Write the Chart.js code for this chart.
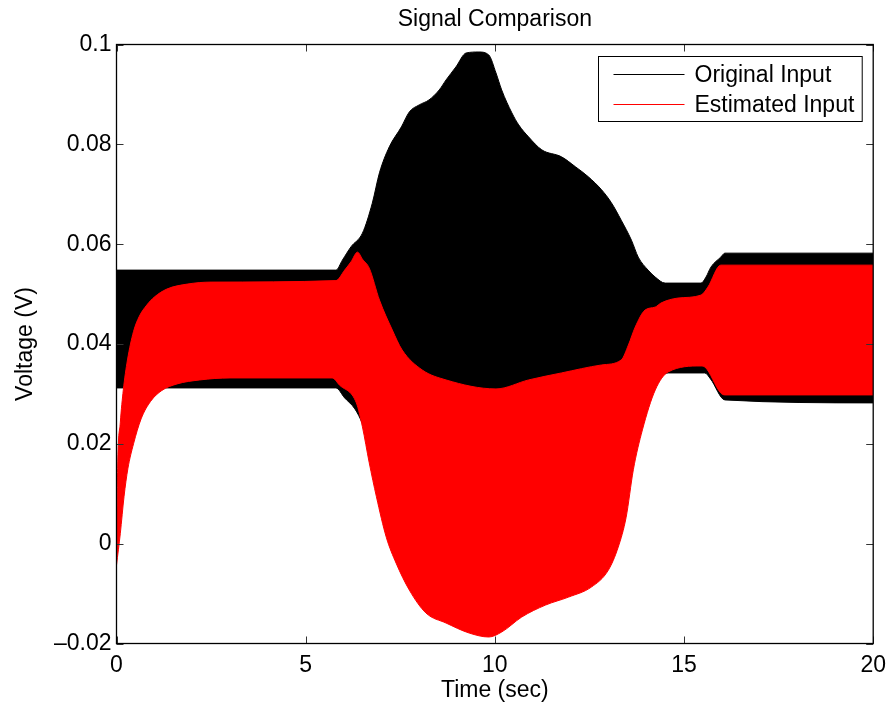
<!DOCTYPE html>
<html>
<head>
<meta charset="utf-8">
<script src="https://cdn.jsdelivr.net/npm/chart.js@4/dist/chart.umd.min.js"></script>
<style>
  html, body { margin: 0; padding: 0; background: #fff; }
  canvas { display: block; }
</style>
</head>
<body>
<canvas id="chart" width="894" height="711"></canvas>
<script>
// Envelope of the original input (dense oscillation drawn as a band)
const origUpperT = [0, 5.8, 5.97, 6.2, 6.5, 6.76, 6.95, 7.21, 7.53, 7.74, 8.0, 8.26, 8.53, 8.71, 8.97, 9.24, 9.58, 9.84, 10.03, 10.18, 10.45, 10.63, 10.89, 11.24, 11.76, 12.13, 12.47, 12.82, 13.08, 13.34, 13.61, 13.79, 14.05, 14.24, 14.5, 15.45, 15.58, 15.71, 15.97, 16.08, 20];
const origUpperV = [0.0548, 0.0548, 0.0568, 0.0595, 0.0622, 0.0682, 0.0743, 0.0795, 0.0835, 0.0865, 0.0879, 0.0889, 0.0909, 0.0929, 0.0955, 0.0983, 0.0985, 0.0979, 0.0943, 0.0909, 0.0863, 0.0839, 0.0815, 0.0789, 0.0775, 0.0755, 0.0735, 0.0709, 0.0683, 0.0648, 0.0608, 0.0574, 0.0548, 0.0534, 0.0522, 0.0522, 0.0534, 0.0554, 0.0574, 0.0582, 0.0582];
const origLowerT = [0, 5.8, 6.03, 6.3, 6.5, 7.0, 8.0, 9.0, 9.6, 10.5, 11.5, 12.5, 13.3, 13.8, 14.24, 14.58, 15.55, 15.7, 16.08, 20];
const origLowerV = [0.0312, 0.0312, 0.0292, 0.0270, 0.0240, 0.0120, -0.0010, -0.0090, -0.0110, -0.0020, 0.0070, 0.0120, 0.0200, 0.0290, 0.0326, 0.0342, 0.0342, 0.0330, 0.0288, 0.0282];

// Envelope of the estimated input
const estUpperT = [0, 0.03, 0.1, 0.18, 0.29, 0.45, 0.6, 0.8, 1.0, 1.33, 1.87, 2.5, 5.8, 6.03, 6.2, 6.37, 6.5, 6.68, 6.95, 7.29, 7.55, 8.08, 8.71, 10.03, 10.89, 11.76, 12.82, 13.34, 13.53, 13.71, 13.97, 14.24, 14.39, 14.84, 15.45, 15.63, 15.97, 20];
const estUpperV = [-0.0043, 0.015, 0.0242, 0.0308, 0.0368, 0.0425, 0.0455, 0.0478, 0.0494, 0.0510, 0.0520, 0.0524, 0.0527, 0.0548, 0.0565, 0.0584, 0.0570, 0.0552, 0.0488, 0.0428, 0.0388, 0.0348, 0.0328, 0.0310, 0.0328, 0.0342, 0.0358, 0.0368, 0.0398, 0.0434, 0.0468, 0.0474, 0.0482, 0.0492, 0.0498, 0.0514, 0.0558, 0.0558];
const estLowerT = [0, 0.1, 0.2, 0.3, 0.45, 0.65, 0.9, 1.2, 1.6, 2.2, 3.0, 5.7, 5.89, 6.34, 6.5, 6.68, 6.87, 7.13, 7.39, 7.74, 8.18, 8.71, 9.32, 9.84, 10.18, 10.71, 11.34, 11.95, 12.55, 13.0, 13.26, 13.47, 13.66, 13.9, 14.24, 14.58, 15.45, 15.55, 15.97, 16.08, 20];
const estLowerV = [-0.0043, 0.0020, 0.0095, 0.0150, 0.0200, 0.0250, 0.0285, 0.0307, 0.0320, 0.0328, 0.0332, 0.0332, 0.0318, 0.0282, 0.0234, 0.0162, 0.0094, 0.0013, -0.0039, -0.0093, -0.0139, -0.0159, -0.0179, -0.0187, -0.0177, -0.0147, -0.0123, -0.0107, -0.0087, -0.0053, -0.0007, 0.0053, 0.0148, 0.0228, 0.0308, 0.0344, 0.0356, 0.0354, 0.0302, 0.0298, 0.0298];

const xTickValues = [0, 5, 10, 15, 20];
const yTickValues = [-0.02, 0, 0.02, 0.04, 0.06, 0.08, 0.1];

const seriesNames = ['Original Input', 'Estimated Input'];
const seriesColors = ['#000000', '#ff0000'];

const FONT = '"Liberation Sans", Arial, Helvetica, sans-serif';
const FS = 23;

function pairs(ts, vs) {
  return ts.map((t, i) => ({ x: t, y: vs[i] }));
}

function band(name, color, order, upper, lower) {
  const common = { label: name, borderColor: color, backgroundColor: color, borderWidth: 1,
                   pointRadius: 0, pointHoverRadius: 0, cubicInterpolationMode: 'monotone', order };
  return [
    Object.assign({}, common, { data: upper, fill: false }),
    Object.assign({}, common, { data: lower, fill: '-1' })
  ];
}

function tickLabel(v) {
  if (Math.abs(v) < 1e-9) return '0';
  const s = String(+Math.abs(v).toFixed(2));
  return (v < 0 ? '\u2013' : '') + s;
}

// Box around the axes with inward tick marks on all four sides
const frameTicks = {
  id: 'frameTicks',
  afterDatasetsDraw(chart) {
    const { ctx, chartArea: a, scales } = chart;
    const xs = scales.x, ys = scales.y;
    const len = 7;
    ctx.save();
    ctx.strokeStyle = '#333';
    ctx.lineWidth = 1;
    ctx.beginPath();
    xTickValues.forEach(v => {
      const px = Math.round(xs.getPixelForValue(v)) + 0.5;
      ctx.moveTo(px, a.bottom); ctx.lineTo(px, a.bottom - len);
      ctx.moveTo(px, a.top); ctx.lineTo(px, a.top + len);
    });
    yTickValues.forEach(v => {
      const py = Math.round(ys.getPixelForValue(v)) + 0.5;
      ctx.moveTo(a.left, py); ctx.lineTo(a.left + len, py);
      ctx.moveTo(a.right, py); ctx.lineTo(a.right - len, py);
    });
    ctx.stroke();
    ctx.strokeStyle = '#000';
    ctx.lineWidth = 1.3;
    ctx.strokeRect(a.left, a.top, a.right - a.left, a.bottom - a.top);
    ctx.restore();
  }
};

// Boxed legend in the upper-right corner of the axes
const boxedLegend = {
  id: 'boxedLegend',
  afterDraw(chart) {
    const { ctx, chartArea: a } = chart;
    const items = [];
    chart.data.datasets.forEach(ds => {
      if (!items.find(it => it.label === ds.label)) items.push({ label: ds.label, color: ds.borderColor });
    });
    ctx.save();
    ctx.font = FS + 'px ' + FONT;
    const textW = Math.max(...items.map(it => ctx.measureText(it.label).width));
    const padL = 15, lineLen = 71, gap = 10, padR = 8, rowH = 30, padT = 17.5;
    const w = padL + lineLen + gap + textW + padR;
    const h = padT * 2 + rowH * (items.length - 1);
    const right = a.right - 11, top = a.top + 12;
    const left = Math.round(right - w) + 0.5;
    ctx.fillStyle = '#fff';
    ctx.fillRect(left, top, right - left, h);
    ctx.strokeStyle = '#000';
    ctx.lineWidth = 1;
    ctx.strokeRect(left, top, right - left, h);
    items.forEach((it, i) => {
      const cy = Math.round(top + padT + i * rowH) + 0.5;
      ctx.strokeStyle = it.color;
      ctx.beginPath();
      ctx.moveTo(left + padL, cy);
      ctx.lineTo(left + padL + lineLen, cy);
      ctx.stroke();
      ctx.fillStyle = '#000';
      ctx.textBaseline = 'middle';
      ctx.textAlign = 'left';
      ctx.fillText(it.label, left + padL + lineLen + gap, cy + 1);
    });
    ctx.restore();
  }
};

Chart.defaults.font.family = FONT;
Chart.defaults.font.size = FS;
Chart.defaults.color = '#000';

new Chart(document.getElementById('chart'), {
  type: 'line',
  data: {
    datasets: [
      ...band(seriesNames[0], seriesColors[0], 2, pairs(origUpperT, origUpperV), pairs(origLowerT, origLowerV)),
      ...band(seriesNames[1], seriesColors[1], 1, pairs(estUpperT, estUpperV), pairs(estLowerT, estLowerV))
    ]
  },
  options: {
    responsive: false,
    animation: false,
    events: [],
    layout: { padding: { left: 0, right: 17.5, top: 0, bottom: 0 } },
    plugins: {
      legend: { display: false },
      tooltip: { enabled: false },
      title: { display: false }
    },
    scales: {
      x: {
        type: 'linear', position: 'bottom', min: 0, max: 20,
        afterBuildTicks: s => { s.ticks = xTickValues.map(v => ({ value: v })); },
        ticks: { padding: 8, maxRotation: 0, callback: v => String(v) },
        grid: { display: false, drawTicks: false },
        border: { display: false },
        title: { display: true, text: 'Time (sec)', padding: { top: 0, bottom: 7 } },
        afterFit: s => { s.height = 67.5; }
      },
      top: {
        type: 'linear', position: 'top', min: 0, max: 20,
        ticks: { display: false },
        grid: { display: false, drawTicks: false },
        border: { display: false },
        title: { display: true, text: 'Signal Comparison', padding: { top: 6, bottom: 0 } },
        afterFit: s => { s.height = 44.5; }
      },
      y: {
        type: 'linear', position: 'left', min: -0.02, max: 0.1,
        afterBuildTicks: s => { s.ticks = yTickValues.map(v => ({ value: v })); },
        ticks: { padding: 5, callback: v => tickLabel(v) },
        grid: { display: false, drawTicks: false },
        border: { display: false },
        title: { display: true, text: 'Voltage (V)', padding: { top: 12, bottom: 0 } },
        afterFit: s => { s.width = 116.5; }
      }
    }
  },
  plugins: [frameTicks, boxedLegend]
});
</script>
</body>
</html>
